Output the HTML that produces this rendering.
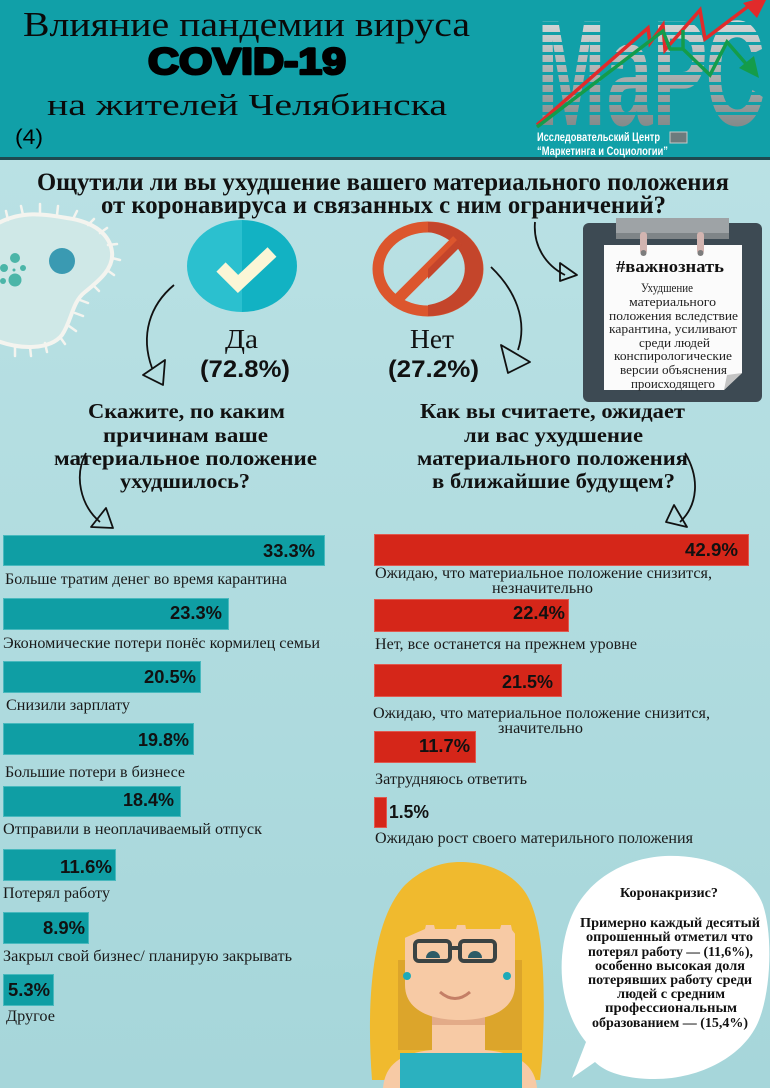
<!DOCTYPE html>
<html><head><meta charset="utf-8"><style>
html,body{margin:0;padding:0;width:770px;height:1088px;overflow:hidden;background:#b4dfe3}
svg{display:block}
.sf{font-family:"Liberation Serif","DejaVu Serif",serif}
.ss{font-family:"Liberation Sans","DejaVu Sans",sans-serif}
.lb{font-family:"Liberation Serif","DejaVu Serif",serif;font-size:16px;fill:#1a1a1a}
.pc{font-family:"Liberation Sans","DejaVu Sans",sans-serif;font-size:18px;font-weight:bold;fill:#111}
.qb{font-family:"Liberation Serif","DejaVu Serif",serif;font-size:21px;font-weight:bold;fill:#111}
.bb{font-family:"Liberation Serif","DejaVu Serif",serif;font-size:14px;font-weight:bold;fill:#111}
.cb{font-family:"Liberation Serif","DejaVu Serif",serif;font-size:12.5px;fill:#222}
</style></head><body>
<svg width="770" height="1088" viewBox="0 0 770 1088" xmlns="http://www.w3.org/2000/svg">
<defs>
<linearGradient id="bg" x1="0" y1="0" x2="0" y2="1"><stop offset="0" stop-color="#bde3e6"/><stop offset="1" stop-color="#a6d6da"/></linearGradient>
<linearGradient id="lg" x1="0" y1="0" x2="0" y2="1"><stop offset="0" stop-color="#eeeeee"/><stop offset="1" stop-color="#6c7474"/></linearGradient>
</defs>
<rect width="770" height="1088" fill="url(#bg)"/>
<!-- header -->
<rect width="770" height="157" fill="#11a0a8"/>
<rect y="157" width="770" height="3" fill="#1e4a50"/>
<text class="sf" x="23" y="36" font-size="35" fill="#0a0a0a" textLength="447" lengthAdjust="spacingAndGlyphs">Влияние пандемии вируса</text>
<text class="ss" x="148" y="74" font-size="37" font-weight="bold" fill="#000" stroke="#000" stroke-width="2.6" stroke-linejoin="round" textLength="198" lengthAdjust="spacingAndGlyphs">COVID-19</text>
<text class="sf" x="47" y="115" font-size="31" fill="#0a0a0a" textLength="400" lengthAdjust="spacingAndGlyphs">на жителей Челябинска</text>
<text class="ss" x="15" y="144" font-size="21" fill="#000" textLength="28" lengthAdjust="spacingAndGlyphs">(4)</text>
<!-- logo -->
<text class="ss" x="537" y="125" font-size="150" font-weight="bold" fill="url(#lg)" textLength="228" lengthAdjust="spacingAndGlyphs">МаРС</text>
<g fill="#11a0a8">
<rect x="535" y="22" width="235" height="3"/><rect x="535" y="32" width="235" height="3"/><rect x="535" y="42" width="235" height="3"/><rect x="535" y="52" width="235" height="3"/><rect x="535" y="62" width="235" height="3"/><rect x="535" y="72" width="235" height="3"/><rect x="535" y="82" width="235" height="3"/><rect x="535" y="92" width="235" height="3"/><rect x="535" y="102" width="235" height="3"/><rect x="535" y="112" width="235" height="3"/>
</g>
<polyline points="537,125 648,28 650,43 663,25 665,50 700,10 705,39 750,5" fill="none" stroke="#e12b2b" stroke-width="3.5"/>
<polygon points="768,-4 743,3 757,18" fill="#e12b2b"/>
<polyline points="537,127 663,31 670,49 683,49 683,30 683,49 710,75 727,42 748,66" fill="none" stroke="#149c4a" stroke-width="3.5"/>
<polygon points="759,78 739,68 754,56" fill="#149c4a"/>
<text class="ss" x="537" y="141" font-size="12" font-weight="bold" fill="#fff" textLength="123" lengthAdjust="spacingAndGlyphs">Исследовательский Центр</text>
<rect x="670" y="132" width="17" height="11" fill="#6d7b7d" stroke="#c8c8c8" stroke-width="1"/>
<text class="ss" x="537" y="155" font-size="12" font-weight="bold" fill="#fff" textLength="131" lengthAdjust="spacingAndGlyphs">“Маркетинга и Социологии”</text>

<!-- main question -->
<text class="sf" x="37" y="190" font-size="25" font-weight="bold" fill="#111" textLength="692" lengthAdjust="spacingAndGlyphs">Ощутили ли вы ухудшение вашего материального положения</text>
<text class="sf" x="101" y="213" font-size="25" font-weight="bold" fill="#111" textLength="565" lengthAdjust="spacingAndGlyphs">от коронавируса и связанных с ним ограничений?</text>

<!-- virus -->
<path d="M-5,225 C20,210 45,214 67,218 C95,222 110,235 112,252 C114,268 100,280 85,292 C72,302 72,320 62,335 C50,350 20,350 -5,340 Z" fill="#cfe8e7" stroke="#f4f4ef" stroke-width="4"/>
<g stroke="#f4f4ef" stroke-width="2.5" stroke-linecap="round">
<line x1="8" y1="220" x2="6" y2="211"/><line x1="23" y1="215" x2="21" y2="206"/><line x1="40" y1="213" x2="40" y2="204"/><line x1="57" y1="215" x2="58" y2="206"/><line x1="73" y1="219" x2="77" y2="211"/><line x1="88" y1="225" x2="94" y2="219"/><line x1="100" y1="233" x2="107" y2="228"/><line x1="108" y1="245" x2="117" y2="244"/><line x1="112" y1="258" x2="120" y2="260"/><line x1="107" y1="270" x2="114" y2="275"/><line x1="93" y1="285" x2="99" y2="291"/><line x1="80" y1="300" x2="88" y2="303"/><line x1="75" y1="313" x2="83" y2="316"/><line x1="69" y1="326" x2="76" y2="331"/><line x1="60" y1="337" x2="65" y2="344"/><line x1="45" y1="343" x2="47" y2="352"/><line x1="30" y1="347" x2="31" y2="356"/><line x1="15" y1="347" x2="15" y2="356"/>
</g>
<circle cx="62" cy="261" r="13" fill="#3a9ab2"/>
<g fill="#4bb5a8"><circle cx="15" cy="258" r="5"/><circle cx="4" cy="268" r="4"/><circle cx="23" cy="268" r="3"/><circle cx="15" cy="280" r="6.5"/><circle cx="3" cy="281" r="3"/><circle cx="14" cy="270" r="1.5"/></g>

<!-- check circle -->
<path d="M242,220 A55,46 0 0,0 242,312 Z" fill="#2bc0cf"/>
<path d="M242,220 A55,46 0 0,1 242,312 Z" fill="#12b2c3"/>
<polyline points="221,267 238,284 272,252" fill="none" stroke="#fbf6d6" stroke-width="13" stroke-linejoin="miter"/>
<text class="sf" x="225" y="348" font-size="27" fill="#111" textLength="33" lengthAdjust="spacingAndGlyphs">Да</text>
<text class="ss" x="200" y="377" font-size="24" font-weight="bold" fill="#111" textLength="90" lengthAdjust="spacingAndGlyphs">(72.8%)</text>

<!-- no circle -->
<ellipse cx="428" cy="269" rx="50" ry="42" fill="none" stroke="#dc562d" stroke-width="11"/>
<path d="M428,222 A55,47 0 0,1 428,316 L428,305 A44,37 0 0,0 428,232 Z" fill="#c4452b"/>
<line x1="457" y1="240" x2="399" y2="298" stroke="#dc562d" stroke-width="11"/>
<path d="M428,269 L457,240 L462,245 L428,279 Z" fill="#c4452b"/>
<text class="sf" x="410" y="348" font-size="27" fill="#111" textLength="44" lengthAdjust="spacingAndGlyphs">Нет</text>
<text class="ss" x="388" y="377" font-size="24" font-weight="bold" fill="#111" textLength="91" lengthAdjust="spacingAndGlyphs">(27.2%)</text>

<!-- arrows -->
<g fill="none" stroke="#111" stroke-width="1.8" stroke-linejoin="round">
<path d="M174,285 C150,305 140,335 152,368"/><polygon points="143,375 165,360 163,385"/>
<path d="M491,267 C515,290 528,320 518,350"/><polygon points="501,345 530,362 508,373"/>
<path d="M535,222 C533,245 545,265 565,275"/><polygon points="560,263 577,275 560,281"/>
<path d="M86,453 C74,475 80,505 100,522"/><polygon points="91,527 106,508 113,528"/>
<path d="M685,453 C700,478 698,505 680,522"/><polygon points="666,522 674,505 687,527"/>
</g>

<!-- clipboard -->
<rect x="583" y="223" width="179" height="179" rx="6" fill="#3d4a53"/>
<rect x="616" y="218" width="113" height="21" fill="#9ea3a6"/>
<rect x="616" y="233" width="113" height="6" fill="#7f8588"/>
<polygon points="604,245 742,245 742,373 724,390 604,390" fill="#fbfbfb"/>
<polygon points="742,373 724,390 727,375" fill="#c4c4c4"/>
<rect x="640" y="232" width="7" height="22" rx="3" fill="#d2b4b0"/><circle cx="643.5" cy="253" r="3" fill="#7d7d7d"/>
<rect x="697" y="232" width="7" height="22" rx="3" fill="#d2b4b0"/><circle cx="700.5" cy="253" r="3" fill="#7d7d7d"/>
<text class="sf" x="616" y="272" font-size="17" font-weight="bold" fill="#111" textLength="108" lengthAdjust="spacingAndGlyphs">#важнознать</text>
<text class="cb" x="641" y="292" textLength="52" lengthAdjust="spacingAndGlyphs">Ухудшение</text>
<text class="cb" x="629" y="306" textLength="87" lengthAdjust="spacingAndGlyphs">материального</text>
<text class="cb" x="609" y="320" textLength="129" lengthAdjust="spacingAndGlyphs">положения вследствие</text>
<text class="cb" x="609" y="333" textLength="128" lengthAdjust="spacingAndGlyphs">карантина, усиливают</text>
<text class="cb" x="639" y="347" textLength="71" lengthAdjust="spacingAndGlyphs">среди людей</text>
<text class="cb" x="614" y="360" textLength="118" lengthAdjust="spacingAndGlyphs">конспирологические</text>
<text class="cb" x="620" y="374" textLength="107" lengthAdjust="spacingAndGlyphs">версии объяснения</text>
<text class="cb" x="631" y="388" textLength="84" lengthAdjust="spacingAndGlyphs">происходящего</text>

<!-- sub questions -->
<text class="qb" x="88" y="418" textLength="197" lengthAdjust="spacingAndGlyphs">Скажите, по каким</text>
<text class="qb" x="103" y="442" textLength="165" lengthAdjust="spacingAndGlyphs">причинам ваше</text>
<text class="qb" x="54" y="465" textLength="263" lengthAdjust="spacingAndGlyphs">материальное положение</text>
<text class="qb" x="120" y="488" textLength="130" lengthAdjust="spacingAndGlyphs">ухудшилось?</text>
<text class="qb" x="420" y="418" textLength="265" lengthAdjust="spacingAndGlyphs">Как вы считаете, ожидает</text>
<text class="qb" x="464" y="442" textLength="179" lengthAdjust="spacingAndGlyphs">ли вас ухудшение</text>
<text class="qb" x="417" y="465" textLength="271" lengthAdjust="spacingAndGlyphs">материального положения</text>
<text class="qb" x="432" y="488" textLength="243" lengthAdjust="spacingAndGlyphs">в ближайшие будущем?</text>

<!-- left bars -->
<g fill="#0f9ea4" stroke="#48b9be" stroke-width="1">
<rect x="3.5" y="535.5" width="321" height="30"/>
<rect x="3.5" y="598.5" width="225" height="31"/>
<rect x="3.5" y="661.5" width="197" height="31"/>
<rect x="3.5" y="723.5" width="190" height="31"/>
<rect x="3.5" y="786.5" width="177" height="30"/>
<rect x="3.5" y="849.5" width="112" height="31"/>
<rect x="3.5" y="912.5" width="85" height="31"/>
<rect x="3.5" y="974.5" width="50" height="31"/>
</g>
<text class="pc" x="263" y="557" textLength="52" lengthAdjust="spacingAndGlyphs">33.3%</text>
<text class="pc" x="170" y="619" textLength="52" lengthAdjust="spacingAndGlyphs">23.3%</text>
<text class="pc" x="144" y="683" textLength="52" lengthAdjust="spacingAndGlyphs">20.5%</text>
<text class="pc" x="138" y="746" textLength="51" lengthAdjust="spacingAndGlyphs">19.8%</text>
<text class="pc" x="123" y="806" textLength="51" lengthAdjust="spacingAndGlyphs">18.4%</text>
<text class="pc" x="60" y="873" textLength="52" lengthAdjust="spacingAndGlyphs">11.6%</text>
<text class="pc" x="43" y="934" textLength="42" lengthAdjust="spacingAndGlyphs">8.9%</text>
<text class="pc" x="8" y="996" textLength="42" lengthAdjust="spacingAndGlyphs">5.3%</text>
<text class="lb" x="5" y="584" textLength="282" lengthAdjust="spacingAndGlyphs">Больше тратим денег во время карантина</text>
<text class="lb" x="3" y="648" textLength="317" lengthAdjust="spacingAndGlyphs">Экономические потери понёс кормилец семьи</text>
<text class="lb" x="6" y="710" textLength="124" lengthAdjust="spacingAndGlyphs">Снизили зарплату</text>
<text class="lb" x="5" y="777" textLength="180" lengthAdjust="spacingAndGlyphs">Большие потери в бизнесе</text>
<text class="lb" x="3" y="834" textLength="259" lengthAdjust="spacingAndGlyphs">Отправили в неоплачиваемый отпуск</text>
<text class="lb" x="3" y="898" textLength="107" lengthAdjust="spacingAndGlyphs">Потерял работу</text>
<text class="lb" x="3" y="961" textLength="289" lengthAdjust="spacingAndGlyphs">Закрыл свой бизнес/ планирую закрывать</text>
<text class="lb" x="6" y="1021" textLength="49" lengthAdjust="spacingAndGlyphs">Другое</text>

<!-- right bars -->
<g fill="#d52619" stroke="#e0584f" stroke-width="1">
<rect x="374.5" y="534.5" width="374" height="31"/>
<rect x="374.5" y="599.5" width="194" height="32"/>
<rect x="374.5" y="664.5" width="187" height="32"/>
<rect x="374.5" y="731.5" width="101" height="31"/>
<rect x="374.5" y="797.5" width="12" height="30"/>
</g>
<text class="pc" x="685" y="556" textLength="53" lengthAdjust="spacingAndGlyphs">42.9%</text>
<text class="pc" x="513" y="619" textLength="52" lengthAdjust="spacingAndGlyphs">22.4%</text>
<text class="pc" x="502" y="688" textLength="51" lengthAdjust="spacingAndGlyphs">21.5%</text>
<text class="pc" x="419" y="752" textLength="51" lengthAdjust="spacingAndGlyphs">11.7%</text>
<text class="pc" x="389" y="818" textLength="40" lengthAdjust="spacingAndGlyphs">1.5%</text>
<text class="lb" x="375" y="578" textLength="337" lengthAdjust="spacingAndGlyphs">Ожидаю, что материальное положение снизится,</text>
<text class="lb" x="492" y="593" textLength="101" lengthAdjust="spacingAndGlyphs">незначительно</text>
<text class="lb" x="375" y="649" textLength="262" lengthAdjust="spacingAndGlyphs">Нет, все останется на прежнем уровне</text>
<text class="lb" x="373" y="718" textLength="337" lengthAdjust="spacingAndGlyphs">Ожидаю, что материальное положение снизится,</text>
<text class="lb" x="498" y="733" textLength="85" lengthAdjust="spacingAndGlyphs">значительно</text>
<text class="lb" x="375" y="784" textLength="152" lengthAdjust="spacingAndGlyphs">Затрудняюсь ответить</text>
<text class="lb" x="375" y="843" textLength="318" lengthAdjust="spacingAndGlyphs">Ожидаю рост своего материльного положения</text>

<!-- woman -->
<path d="M372,1080 C366,1000 372,920 405,885 C425,866 445,862 460,862 C480,862 505,868 522,888 C545,915 546,990 542,1060 L540,1080 Z" fill="#f0ba2e"/>
<path d="M398,960 L522,960 L522,1050 L398,1050 Z" fill="#dca52b"/>
<path d="M383,1088 C385,1065 400,1053 432,1050 L485,1050 C518,1053 535,1065 537,1088 Z" fill="#f7caa5"/>
<rect x="432" y="1005" width="53" height="50" fill="#f7caa5"/>
<rect x="432" y="1005" width="53" height="20" fill="#e3ab88"/>
<rect x="400" y="1053" width="122" height="35" fill="#2bb1bf"/>
<path d="M405,925 L515,925 L515,985 C515,1010 490,1020 460,1020 C430,1020 405,1010 405,985 Z" fill="#f7caa5"/>
<path d="M400,940 C398,890 425,868 460,866 C497,866 522,888 520,940 L512,930 L507,906 L500,929 L466,929 L462,906 L456,929 L435,929 L430,908 L425,929 Z" fill="#f0ba2e"/>
<g fill="none" stroke="#3b4343" stroke-width="4"><rect x="415" y="941" width="35" height="20" rx="4"/><rect x="460" y="941" width="35" height="20" rx="4"/><line x1="450" y1="948" x2="460" y2="948"/></g>
<path d="M426,958 A7,7 0 0,1 440,958 Z" fill="#2d5b66"/>
<path d="M468,958 A7,7 0 0,1 482,958 Z" fill="#2d5b66"/>
<circle cx="407" cy="976" r="4" fill="#1eaab8"/><circle cx="507" cy="976" r="4" fill="#1eaab8"/>
<path d="M440,992 Q455,1005 470,992" fill="none" stroke="#c47f66" stroke-width="3"/>

<!-- speech bubble -->
<path d="M572,1078 L586,1042 C560,1010 555,960 570,920 C585,880 625,858 665,856 C712,854 752,874 763,905 C773,935 771,990 759,1020 C745,1056 700,1079 655,1079 C625,1079 605,1072 595,1062 Z" fill="#ffffff"/>
<text class="bb" x="620" y="897" textLength="98" lengthAdjust="spacingAndGlyphs">Коронакризис?</text>
<text class="bb" x="580" y="927" textLength="180" lengthAdjust="spacingAndGlyphs">Примерно каждый десятый</text>
<text class="bb" x="586" y="941" textLength="167" lengthAdjust="spacingAndGlyphs">опрошенный отметил что</text>
<text class="bb" x="588" y="956" textLength="165" lengthAdjust="spacingAndGlyphs">потерял работу — (11,6%),</text>
<text class="bb" x="595" y="970" textLength="150" lengthAdjust="spacingAndGlyphs">особенно высокая доля</text>
<text class="bb" x="588" y="984" textLength="164" lengthAdjust="spacingAndGlyphs">потерявших работу среди</text>
<text class="bb" x="617" y="998" textLength="108" lengthAdjust="spacingAndGlyphs">людей с средним</text>
<text class="bb" x="605" y="1012" textLength="132" lengthAdjust="spacingAndGlyphs">профессиональным</text>
<text class="bb" x="592" y="1027" textLength="156" lengthAdjust="spacingAndGlyphs">образованием — (15,4%)</text>
</svg>
</body></html>
